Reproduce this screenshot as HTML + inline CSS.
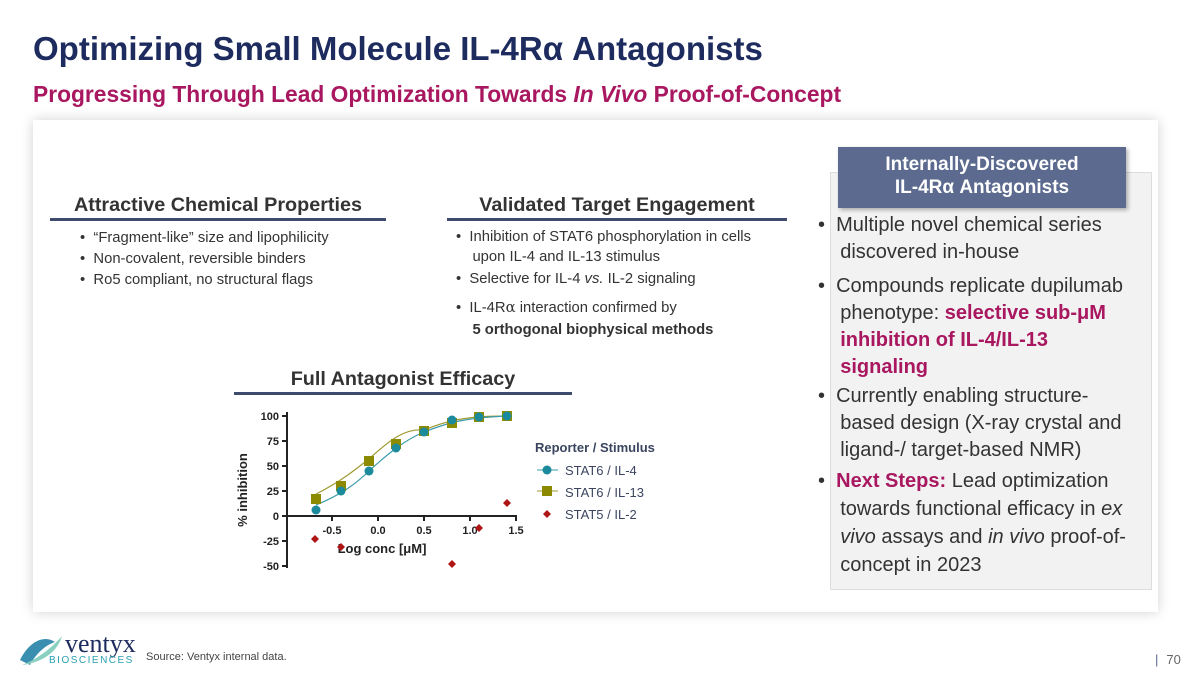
<!DOCTYPE html>
<html><head><meta charset="utf-8"><style>
body{margin:0;width:1200px;height:673px;background:#fff;font-family:"Liberation Sans",sans-serif;position:relative;overflow:hidden}
.a{position:absolute;white-space:nowrap}
h1{position:absolute;left:33px;top:30px;margin:0;font-size:33px;color:#1d2b5e;font-weight:bold}
h2{position:absolute;left:33px;top:81px;margin:0;font-size:22.8px;color:#a8175f;font-weight:bold}
.card{position:absolute;left:33px;top:120px;width:1125px;height:492px;background:#fff;box-shadow:0 0 12px rgba(0,0,0,.18)}
.hd{font-size:19.8px;font-weight:bold;color:#333;text-align:center}
.ln{position:absolute;height:3px;background:#3e4a6e}
.b{font-size:14.8px;color:#333}
.rp{position:absolute;left:830px;top:172px;width:320px;height:416px;background:#f2f2f2;border:1px solid #ddd}
.rt{font-size:20px;color:#333;line-height:27px}
.m{color:#a8175f;font-weight:bold}
</style></head><body>
<h1>Optimizing Small Molecule IL-4Rα Antagonists</h1>
<h2>Progressing Through Lead Optimization Towards <i>In Vivo</i> Proof-of-Concept</h2>
<div class="card"></div>
<div class="rp"></div>
<div class="a" style="left:838px;top:147px;width:288px;height:61px;background:#5b6a8e;box-shadow:2px 2px 4px rgba(0,0,0,.3);color:#fff;font-size:19px;font-weight:bold;text-align:center;line-height:23px;padding-top:6px;box-sizing:border-box">Internally-Discovered<br>IL-4Rα Antagonists</div>
<div class="a rt" style="left:818px;top:212px">• &nbsp;Multiple novel chemical series<br>&nbsp;&nbsp;&nbsp;&nbsp;discovered in-house</div>
<div class="a rt" style="left:818px;top:273px">• &nbsp;Compounds replicate dupilumab<br>&nbsp;&nbsp;&nbsp;&nbsp;phenotype: <span class="m">selective sub-μM</span><br>&nbsp;&nbsp;&nbsp;&nbsp;<span class="m">inhibition of IL-4/IL-13</span><br>&nbsp;&nbsp;&nbsp;&nbsp;<span class="m">signaling</span></div>
<div class="a rt" style="left:818px;top:383px">• &nbsp;Currently enabling structure-<br>&nbsp;&nbsp;&nbsp;&nbsp;based design (X-ray crystal and<br>&nbsp;&nbsp;&nbsp;&nbsp;ligand-/ target-based NMR)</div>
<div class="a rt" style="left:818px;top:467px;line-height:28px">• &nbsp;<span class="m">Next Steps:</span> Lead optimization<br>&nbsp;&nbsp;&nbsp;&nbsp;towards functional efficacy in <i>ex</i><br>&nbsp;&nbsp;&nbsp;&nbsp;<i>vivo</i> assays and <i>in vivo</i> proof-of-<br>&nbsp;&nbsp;&nbsp;&nbsp;concept in 2023</div>

<div class="a hd" style="left:50px;top:194px;width:336px">Attractive Chemical Properties</div>
<div class="ln" style="left:50px;top:218px;width:336px"></div>
<div class="a b" style="left:80px;top:228px;line-height:21px">•&nbsp; “Fragment-like” size and lipophilicity<br>•&nbsp; Non-covalent, reversible binders<br>•&nbsp; Ro5 compliant, no structural flags</div>
<div class="a hd" style="left:447px;top:194px;width:340px">Validated Target Engagement</div>
<div class="ln" style="left:447px;top:218px;width:340px"></div>
<div class="a b" style="left:456px;top:227px;line-height:20px">•&nbsp; Inhibition of STAT6 phosphorylation in cells<br>&nbsp;&nbsp;&nbsp;&nbsp;upon IL-4 and IL-13 stimulus</div>
<div class="a b" style="left:456px;top:271px">•&nbsp; Selective for IL-4 <i>vs.</i> IL-2 signaling</div>
<div class="a b" style="left:456px;top:297px;line-height:22px">•&nbsp; IL-4R<span style="font-family:'DejaVu Serif',serif">α</span> interaction confirmed by<br>&nbsp;&nbsp;&nbsp;&nbsp;<b>5 orthogonal biophysical methods</b></div>
<div class="a hd" style="left:234px;top:368px;width:338px">Full Antagonist Efficacy</div>
<div class="ln" style="left:234px;top:392px;width:338px"></div>

<svg class="a" style="left:0;top:0" width="1200" height="673">
<g font-family="Liberation Sans,sans-serif" font-weight="bold" font-size="11" fill="#222">
<line x1="287" y1="412" x2="287" y2="568" stroke="#222" stroke-width="2"/>
<line x1="287" y1="516" x2="517" y2="516" stroke="#222" stroke-width="2"/>
<g stroke="#222" stroke-width="2"><line x1="282" y1="416" x2="287" y2="416"/><line x1="282" y1="441" x2="287" y2="441"/><line x1="282" y1="466" x2="287" y2="466"/><line x1="282" y1="491" x2="287" y2="491"/><line x1="282" y1="516" x2="287" y2="516"/><line x1="282" y1="541" x2="287" y2="541"/><line x1="282" y1="566" x2="287" y2="566"/>
<line x1="332" y1="516" x2="332" y2="521"/><line x1="378" y1="516" x2="378" y2="521"/><line x1="424" y1="516" x2="424" y2="521"/><line x1="470" y1="516" x2="470" y2="521"/><line x1="516" y1="516" x2="516" y2="521"/></g>
<g text-anchor="end"><text x="279" y="420">100</text><text x="279" y="445">75</text><text x="279" y="470">50</text><text x="279" y="495">25</text><text x="279" y="520">0</text><text x="279" y="545">-25</text><text x="279" y="570">-50</text></g>
<g text-anchor="middle"><text x="332" y="534">-0.5</text><text x="378" y="534">0.0</text><text x="424" y="534">0.5</text><text x="470" y="534">1.0</text><text x="516" y="534">1.5</text></g>
<text x="382" y="553" font-size="13" text-anchor="middle">Log conc [μM]</text>
<text transform="translate(247,490) rotate(-90)" font-size="13" text-anchor="middle">% inhibition</text>
<path d="M316,494 C340,482 355,470 370,458 C390,440 405,428 424,430 C445,422 460,416 507,416" fill="none" stroke="#a09a30" stroke-width="1.2"/>
<path d="M316,505 C340,495 355,485 370,470 C390,452 405,440 424,432 C445,424 460,418 507,416" fill="none" stroke="#3a9aaa" stroke-width="1.2"/>
<g fill="#8b8a00"><rect x="311" y="494" width="10" height="10"/><rect x="336" y="481" width="10" height="10"/><rect x="364" y="456" width="10" height="10"/><rect x="391" y="439" width="10" height="10"/><rect x="419" y="426" width="10" height="10"/><rect x="447" y="418" width="10" height="10"/><rect x="474" y="412" width="10" height="10"/><rect x="502" y="411" width="10" height="10"/></g>
<g fill="#1a8a9c"><circle cx="316" cy="510" r="4.5"/><circle cx="341" cy="491" r="4.5"/><circle cx="369" cy="471" r="4.5"/><circle cx="396" cy="448" r="4.5"/><circle cx="424" cy="432" r="4.5"/><circle cx="452" cy="420" r="4.5"/><circle cx="479" cy="417" r="4.5"/><circle cx="507" cy="416" r="4.5"/></g>
<g fill="#b01515"><path d="M315,535l4,4-4,4-4-4z"/><path d="M341,543l4,4-4,4-4-4z"/><path d="M452,560l4,4-4,4-4-4z"/><path d="M479,524l4,4-4,4-4-4z"/><path d="M507,499l4,4-4,4-4-4z"/></g>
<text x="535" y="452" font-size="13" fill="#3b4560">Reporter / Stimulus</text>
<g font-weight="normal" font-size="13" fill="#3b4560"><text x="565" y="475">STAT6 / IL-4</text><text x="565" y="497">STAT6 / IL-13</text><text x="565" y="519">STAT5 / IL-2</text></g>
<line x1="537" y1="470" x2="558" y2="470" stroke="#3a9aaa"/><circle cx="547" cy="470" r="4.5" fill="#1a8a9c"/>
<line x1="537" y1="491" x2="558" y2="491" stroke="#a09a30"/><rect x="542" y="486" width="10" height="10" fill="#8b8a00"/>
<path d="M547,510l4,4-4,4-4-4z" fill="#b01515"/>
</g>
<path d="M20,660 C30,640 45,635 55,642 C45,645 35,655 30,665 Z" fill="#3a8fb0"/>
<path d="M22,665 C35,660 50,650 62,636 C58,650 45,662 22,665Z" fill="#8ad0c0"/>
<text x="65" y="652" font-family="Liberation Serif,serif" font-size="26" fill="#1d2b5e">ventyx</text>
<text x="49" y="663" font-family="Liberation Sans,sans-serif" font-size="10" fill="#2aa0b0" letter-spacing="1.5">BIOSCIENCES</text>
</svg>
<div class="a" style="left:146px;top:651px;font-size:11px;color:#444">Source: Ventyx internal data.</div>
<div class="a" style="left:1155px;top:652px;font-size:13px;color:#666"><span style="color:#5b6a8e;margin-right:8px">|</span>70</div>
</body></html>
